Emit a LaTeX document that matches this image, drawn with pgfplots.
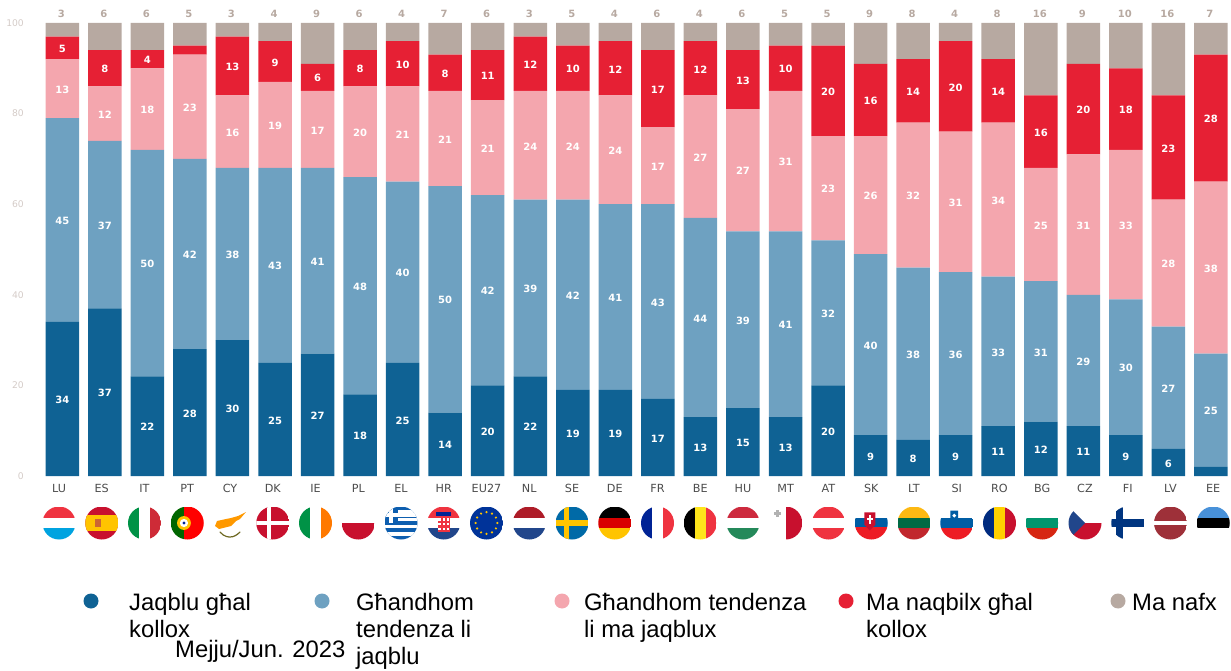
\documentclass[border=0pt]{standalone}
\usepackage{fontspec}
\usepackage{pgfplots}
\usepackage{pgfplotstable}
\pgfplotsset{compat=1.18}
\setmainfont{DejaVu Sans}
\newfontfamily\legfont{Liberation Sans}
\definecolor{cA}{HTML}{0F6294}
\definecolor{cB}{HTML}{6EA1C1}
\definecolor{cC}{HTML}{F4A6AE}
\definecolor{cD}{HTML}{E62034}
\definecolor{cE}{HTML}{B7A9A1}
\definecolor{fR}{HTML}{EF3340}
\definecolor{fRd}{HTML}{C8102E}
\definecolor{fRo}{HTML}{AE1C28}
\definecolor{fCy}{HTML}{00A3E0}
\definecolor{fY}{HTML}{FFC400}
\definecolor{fG}{HTML}{009246}
\definecolor{fB}{HTML}{002395}
\definecolor{fNL}{HTML}{21468B}
\definecolor{fSE}{HTML}{006AA7}
\definecolor{fEL}{HTML}{0D5EAF}
\definecolor{fEU}{HTML}{003399}
\definecolor{fHUr}{HTML}{CD2A3E}
\definecolor{fHUg}{HTML}{24895A}
\definecolor{fSI}{HTML}{005DA4}
\definecolor{fSIr}{HTML}{ED1C24}
\definecolor{fBG}{HTML}{00966E}
\definecolor{fBGr}{HTML}{D62612}
\definecolor{fRO}{HTML}{002B7F}
\definecolor{fFI}{HTML}{003580}
\definecolor{fLV}{HTML}{9E3039}
\definecolor{fEE}{HTML}{4891D9}
\definecolor{fLTg}{HTML}{006A44}
\definecolor{fLTy}{HTML}{FDB913}
\definecolor{fLTr}{HTML}{C1272D}
\definecolor{fIE}{HTML}{FF7900}
\definecolor{fIT}{HTML}{CE2B37}
\pgfplotstableread{
x a b c d e
0 34 45 13 5 3
1 37 37 12 8 6
2 22 50 18 4 6
3 28 42 23 2 5
4 30 38 16 13 3
5 25 43 19 9 4
6 27 41 17 6 9
7 18 48 20 8 6
8 25 40 21 10 4
9 14 50 21 8 7
10 20 42 21 11 6
11 22 39 24 12 3
12 19 42 24 10 5
13 19 41 24 12 4
14 17 43 17 17 6
15 13 44 27 12 4
16 15 39 27 13 6
17 13 41 31 10 5
18 20 32 23 20 5
19 9 40 26 16 9
20 8 38 32 14 8
21 9 36 31 20 4
22 11 33 34 14 8
23 12 31 25 16 16
24 11 29 31 20 9
25 9 30 33 18 10
26 6 27 28 23 16
27 2 25 38 28 7
}\datatable
\newcommand{\flag}[2]{\begin{scope}[shift={(59+42.75*#1,147)},x=16.5pt,y=16.5pt]\clip (0,0) circle (1);#2\end{scope}}
\newcommand{\hb}[3]{\fill[#3] (-1,#1) rectangle (1,#2);}
\newcommand{\vb}[3]{\fill[#3] (#1,-1) rectangle (#2,1);}
\newcommand{\lt}[3]{\node[anchor=base west,inner sep=0pt,font=\legfont\fontsize{23.8}{24}\selectfont] at (#1,670-#2) {#3};}
\newcommand{\lab}[3][]{\addplot[draw=none,mark=none,
   point meta=explicit symbolic,
   nodes near coords={\ifnum\pgfplotspointmeta<3 \else\pgfplotspointmeta\fi},
   nodes near coords style={font=\bfseries\fontsize{10}{10}\selectfont,text=white,anchor=center,inner sep=0pt,yshift=-1pt,#1}]
   table[x=x,y expr={#3},meta=#2]{\datatable};}
\begin{document}
\begin{tikzpicture}[x=1pt,y=1pt]
\useasboundingbox (0,0) rectangle (1231,670);
\begin{axis}[
  at={(41.03pt,194pt)},anchor=south west,
  scale only axis,width=1186.9pt,height=453pt,
  ybar stacked,bar width=33.5pt,
  xmin=-0.5,xmax=27.4,ymin=0,ymax=100,
  axis line style={draw=none},
  tick style={draw=none},
  xtick=\empty,
  ytick={0,20,40,60,80,100},
  /pgf/number format/assume math mode=true,
  yticklabel style={font=\fontsize{9.2}{10}\selectfont,text=cE!60,inner sep=0pt,xshift=-17pt},
  clip=false,
  every axis plot/.append style={draw=none},
]
\addplot[fill=cA] table[x=x,y=a]{\datatable};
\addplot[fill=cB] table[x=x,y=b]{\datatable};
\addplot[fill=cC] table[x=x,y=c]{\datatable};
\addplot[fill=cD] table[x=x,y=d]{\datatable};
\addplot[fill=cE] table[x=x,y=e]{\datatable};
\end{axis}
\begin{axis}[
  at={(41.03pt,194pt)},anchor=south west,
  scale only axis,width=1186.9pt,height=453pt,
  xmin=-0.5,xmax=27.4,ymin=0,ymax=100,
  axis line style={draw=none},tick style={draw=none},
  xtick=\empty,ytick=\empty,clip=false,
]
\lab{a}{\thisrow{a}/2}
\lab{b}{\thisrow{a}+\thisrow{b}/2}
\lab{c}{\thisrow{a}+\thisrow{b}+\thisrow{c}/2}
\lab{d}{\thisrow{a}+\thisrow{b}+\thisrow{c}+\thisrow{d}/2}
\lab[text=cE,yshift=10pt,xshift=-1pt]{e}{\thisrow{a}+\thisrow{b}+\thisrow{c}+\thisrow{d}+\thisrow{e}}
\end{axis}
\begin{axis}[
  at={(37.625pt,194pt)},anchor=south west,
  scale only axis,width=1197pt,height=453pt,
  xmin=-0.5,xmax=27.5,ymin=0,ymax=100,
  axis line style={draw=none},tick style={draw=none},
  ytick=\empty,
  xtick={0,...,27},
  xticklabels={LU,ES,IT,PT,CY,DK,IE,PL,EL,HR,EU27,NL,SE,DE,FR,BE,HU,MT,AT,SK,LT,SI,RO,BG,CZ,FI,LV,EE},
  xticklabel style={font=\fontsize{11.2}{12}\selectfont,text=black!70,inner sep=0pt,yshift=-8pt},
]
\end{axis}
% flags
\flag{0}{\hb{.33}{1}{fR}\hb{-1}{-.33}{fCy}}
\flag{1}{\fill[fRd] (-1,-1) rectangle (1,1);\hb{-.5}{.5}{fY}\fill[brown!80!red] (-.38,-.25) rectangle (-.05,.25);}
\flag{2}{\vb{-1}{-.33}{fG}\vb{.33}{1}{fIT}}
\flag{3}{\vb{-1}{-.2}{green!40!black}\vb{-.2}{1}{red}\fill[fY] (-.2,0) circle (.42);\fill[white] (-.2,0) circle (.25);\fill[fB] (-.2,0) circle (.1);}
\begin{scope}[shift={(59+42.75*4,147)}]
\fill[orange!80!yellow] (-15,-3) -- (-13,2) -- (-4,4) -- (1,5) -- (8,7) -- (16,11) -- (10,4) -- (6,2) -- (1,-3) -- (-7,-5) -- (-11,-6) -- cycle;
\draw[olive!70!black,line width=1.2pt,line cap=round] (-10,-9) .. controls (-6,-14) and (-1,-14) .. (0,-14) .. controls (4,-14) and (7,-12) .. (10,-9);
\end{scope}
\flag{5}{\fill[fRd] (-1,-1) rectangle (1,1);\vb{-.33}{-.1}{white}\hb{-.11}{.11}{white}}
\flag{6}{\vb{-1}{-.33}{fG}\vb{.33}{1}{fIE}}
\flag{7}{\hb{-1}{0}{fRd}}
\flag{8}{\fill[fEL] (-1,-1) rectangle (1,1);\foreach \y in {-.67,-.22,.22,.67}{\hb{\y-.11}{\y+.11}{white}}\fill[fEL] (-1,.0) rectangle (-.2,1);\hb{.38}{.6}{white}\fill[white] (-.7,0) rectangle (-.5,1);}
\flag{9}{\hb{.33}{1}{fR}\hb{-1}{-.33}{fNL}\fill[fR] (-.35,-.55) rectangle (.35,.5);\foreach \i in {-.25,0,.25}{\foreach \j in {-.45,-.15,.15}{\fill[white] (\i-.07,\j) rectangle (\i+.07,\j+.15);}}\fill[fB] (-.45,.45) rectangle (.45,.65);}
\flag{10}{\fill[fEU] (-1,-1) rectangle (1,1);\foreach \a in {0,30,...,330}{\fill[fY] (\a:.66) circle (.075);}}
\flag{11}{\hb{.33}{1}{fRo}\hb{-1}{-.33}{fNL}}
\flag{12}{\fill[fSE] (-1,-1) rectangle (1,1);\hb{-.17}{.17}{fY}\vb{-.5}{-.17}{fY}}
\flag{13}{\hb{.33}{1}{black}\hb{-.33}{.33}{red!85!black}\hb{-1}{-.33}{fY}}
\flag{14}{\vb{-1}{-.33}{fB}\vb{.33}{1}{fR}}
\flag{15}{\vb{-1}{-.33}{black}\vb{-.33}{.33}{yellow!85!orange!90!white}\vb{.33}{1}{fR}}
\flag{16}{\hb{.33}{1}{fHUr}\hb{-1}{-.33}{fHUg}}
\flag{17}{\vb{0}{1}{fRd}\fill[gray!60] (-.6,.38) rectangle (-.4,.78);\fill[gray!60] (-.7,.5) rectangle (-.3,.66);}
\flag{18}{\hb{.28}{1}{fR}\hb{-1}{-.28}{fR}}
\flag{19}{\hb{-.25}{.33}{fSI}\hb{-1}{-.25}{fSIr}\fill[fRd] (-.42,.65) -- (-.42,-.1) -- (-.1,-.45) -- (.25,-.1) -- (.25,.65) -- cycle;\fill[white] (-.13,-.05) rectangle (-.03,.5);\fill[white] (-.28,.2) rectangle (.12,.3);}
\flag{20}{\hb{.33}{1}{fLTy}\hb{-.33}{.33}{fLTg}\hb{-1}{-.33}{fLTr}}
\flag{21}{\hb{-.33}{.33}{fSI}\hb{-1}{-.33}{fSIr}\fill[fSI] (-.38,.75) -- (-.38,.3) -- (-.15,.05) -- (.08,.3) -- (.08,.75) -- cycle;\fill[white] (-.15,.45) circle (.12);}
\flag{22}{\vb{-1}{-.33}{fRO}\vb{-.33}{.33}{fY!80!yellow}\vb{.33}{1}{fRd}}
\flag{23}{\hb{-.33}{.33}{fBG}\hb{-1}{-.33}{fBGr}}
\flag{24}{\hb{-1}{0}{fRd}\fill[fNL] (-1,1) -- (0,0) -- (-1,-1) -- cycle;}
\flag{25}{\hb{-.26}{.26}{fFI}\vb{-.72}{-.3}{fFI}}
\flag{26}{\hb{.14}{1}{fLV}\hb{-1}{-.14}{fLV}}
\flag{27}{\hb{.33}{1}{fEE}\hb{-.33}{.33}{black}}
% legend
\foreach \px/\c in {91/cA,322/cB,562/cC,846/cD,1118/cE}{\fill[\c] (\px,69) circle (7.5);}
\lt{129}{610}{Jaqblu għal}
\lt{129}{637}{kollox}
\lt{356}{610}{Għandhom}
\lt{356}{637}{tendenza li}
\lt{356}{664}{jaqblu}
\lt{584}{610}{Għandhom tendenza}
\lt{584}{637}{li ma jaqblux}
\lt{866}{610}{Ma naqbilx għal}
\lt{866}{637}{kollox}
\lt{1132}{610}{Ma nafx}
\lt{175}{657}{Mejju/Jun. 2023}
\end{tikzpicture}
\end{document}
